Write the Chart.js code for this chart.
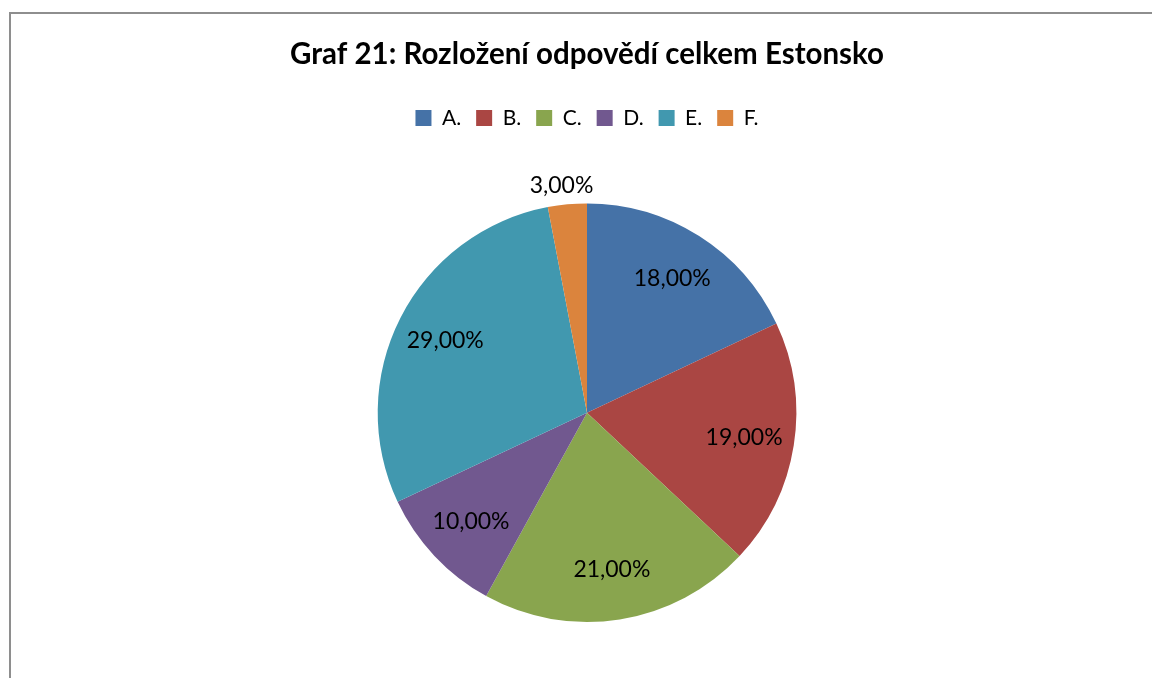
<!DOCTYPE html>
<html>
<head>
<meta charset="utf-8">
<script src="https://cdn.jsdelivr.net/npm/chart.js@4/dist/chart.umd.min.js"></script>
<style>
  html, body { margin: 0; padding: 0; background: #fff; overflow: hidden; }
  #frame { position: absolute; left: 9px; top: 12px; width: 1200px; height: 720px; border: 2px solid #8e8e8e; }
  #wrap { position: absolute; left: 0; top: 0; width: 1152px; height: 678px; }
</style>
</head>
<body>
<div id="frame"></div>
<div id="wrap"><canvas id="pieChart" width="1152" height="678"></canvas></div>
<script>
const categories = ["A.", "B.", "C.", "D.", "E.", "F."];
const shares = [18, 19, 21, 10, 29, 3];
const sliceColors = ["#4572a7", "#aa4643", "#89a54e", "#71588f", "#4198af", "#db843d"];

const fontFamily = "Lato, 'Open Sans', sans-serif";

// extra room under the legend so the pie starts lower
const legendGap = {
  id: "legendGap",
  beforeInit(chart) {
    const fit = chart.legend.fit;
    chart.legend.fit = function () {
      fit.bind(chart.legend)();
      this.height += 65;
    };
  }
};

// draws the percentage labels like Excel's "best fit"
const sliceLabels = {
  id: "sliceLabels",
  afterDatasetsDraw(chart) {
    const ctx = chart.ctx;
    const meta = chart.getDatasetMeta(0);
    ctx.save();
    ctx.font = "23px " + fontFamily;
    ctx.fillStyle = "#000";
    ctx.textAlign = "center";
    ctx.textBaseline = "middle";
    meta.data.forEach((arc, i) => {
      const mid = (arc.startAngle + arc.endAngle) / 2;
      const small = shares[i] < 5;
      const r = small ? arc.outerRadius + 19 : arc.outerRadius * 0.76;
      const x = arc.x + Math.cos(mid) * r;
      const y = arc.y + Math.sin(mid) * r;
      ctx.fillText(shares[i].toFixed(2).replace(".", ",") + "%", small ? x - 4 : x, y);
    });
    ctx.restore();
  }
};

new Chart(document.getElementById("pieChart").getContext("2d"), {
  type: "pie",
  data: {
    labels: categories,
    datasets: [{
      data: shares,
      backgroundColor: sliceColors,
      borderWidth: 0
    }]
  },
  options: {
    responsive: false,
    animation: false,
    layout: { padding: { left: 22, top: 12, bottom: 56, right: 0 } },
    plugins: {
      title: {
        display: true,
        text: "Graf 21: Rozložení odpovědí celkem Estonsko",
        font: { family: fontFamily, size: 29.5, weight: "bold" },
        color: "#000",
        padding: { top: 25, bottom: 20 }
      },
      legend: {
        display: true,
        position: "top",
        labels: {
          color: "#000",
          font: { family: fontFamily, size: 21 },
          boxWidth: 16,
          boxHeight: 16,
          padding: 15
        }
      },
      tooltip: { enabled: false }
    }
  },
  plugins: [legendGap, sliceLabels]
});
</script>
</body>
</html>
